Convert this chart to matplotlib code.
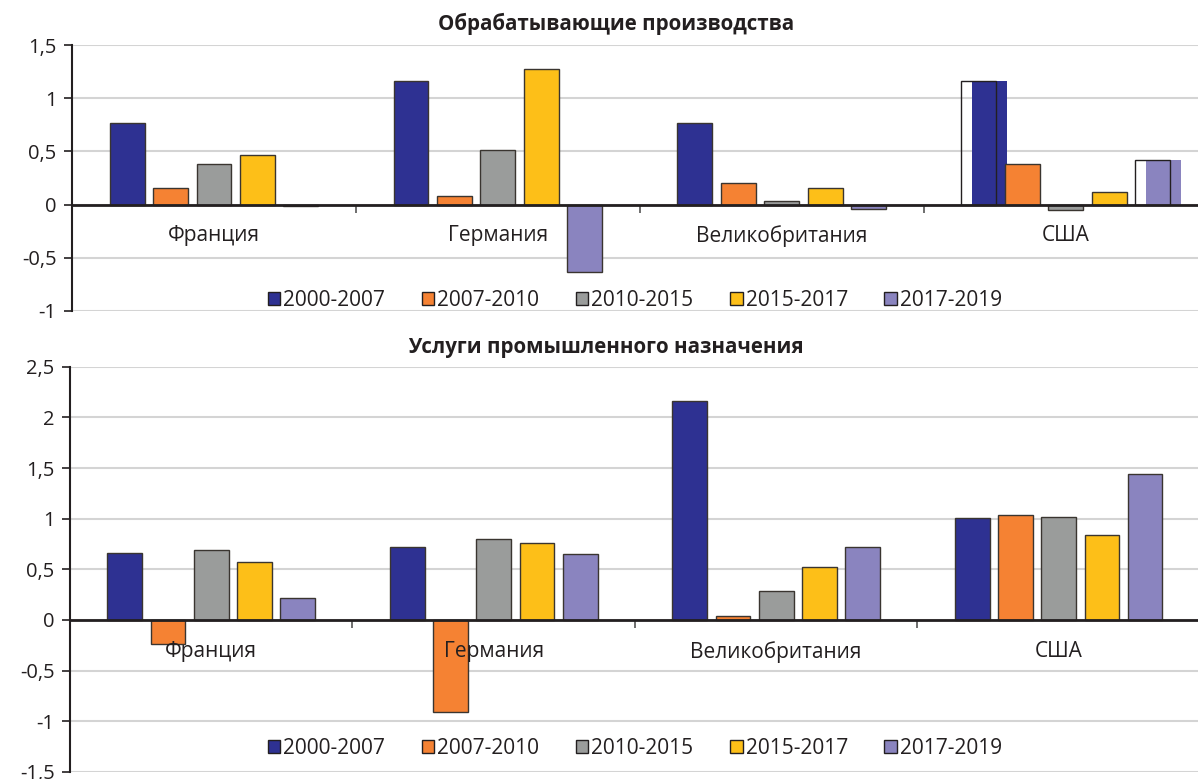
import matplotlib.pyplot as plt
import numpy as np

plt.rcParams['font.family'] = ['Open Sans', 'DejaVu Sans']

countries = ["Франция", "Германия", "Великобритания", "США"]
periods = ["2000-2007", "2007-2010", "2010-2015", "2015-2017", "2017-2019"]
colors = ["#2E3192", "#F58233", "#9A9C9B", "#FDBF18", "#8A84BF"]

# значения по периодам, страны по порядку
manuf = {
    "2000-2007": [0.77, 1.16, 0.77, 1.16],
    "2007-2010": [0.16, 0.08, 0.20, 0.38],
    "2010-2015": [0.38, 0.51, 0.03, -0.05],
    "2015-2017": [0.47, 1.27, 0.16, 0.12],
    "2017-2019": [-0.01, -0.63, -0.04, 0.42],
}
services = {
    "2000-2007": [0.66, 0.72, 2.16, 1.01],
    "2007-2010": [-0.24, -0.91, 0.04, 1.04],
    "2010-2015": [0.69, 0.80, 0.29, 1.02],
    "2015-2017": [0.57, 0.76, 0.52, 0.84],
    "2017-2019": [0.22, 0.65, 0.72, 1.44],
}

top_ticks = [1.5, 1, 0.5, 0, -0.5, -1]
bot_ticks = [2.5, 2, 1.5, 1, 0.5, 0, -0.5, -1, -1.5]

txt = "#231F20"
step = 0.153
width = 0.123


def draw_panel(ax, data, ticks, title, title_x, title_y, legend_y, glitch=False):
    x = np.arange(len(countries))
    for j, p in enumerate(periods):
        pos = x + (j - 2) * step
        vals = data[p]
        for i in range(len(countries)):
            if glitch and i == 3 and j in (0, 4):
                # смещённая заливка как в исходнике
                ax.bar(pos[i] + 0.039, vals[i], width, color=colors[j], zorder=3)
                ax.bar(pos[i], vals[i], width, facecolor="none",
                       edgecolor="#231F20", linewidth=1, zorder=4)
            else:
                ax.bar(pos[i], vals[i], width, color=colors[j],
                       edgecolor="#3a3530", linewidth=1, zorder=3)
    ax.set_xlim(-0.5, 3.5)
    ax.set_ylim(min(ticks), max(ticks))
    ax.set_yticks(ticks)
    ax.set_yticklabels([("%g" % t).replace(".", ",") for t in ticks],
                       fontsize=14.5, color=txt)
    ax.yaxis.grid(True, color="#D4D4D4", linewidth=1.5, zorder=0)
    ax.set_axisbelow(True)
    for s in ["top", "right"]:
        ax.spines[s].set_visible(False)
    ax.spines["left"].set_linewidth(1.5)
    ax.spines["left"].set_color("#231F20")
    ax.spines["bottom"].set_position(("data", 0))
    ax.spines["bottom"].set_linewidth(2)
    ax.spines["bottom"].set_color("#231F20")
    ax.spines["bottom"].set_zorder(5)
    ax.tick_params(axis="y", length=6, width=1.2, color="#231F20", pad=5)
    ax.set_xticks([0.5, 1.5, 2.5])
    ax.set_xticklabels([])
    ax.tick_params(axis="x", which="major", length=6, width=1.2, color="#555555")
    # подписи стран поверх столбцов
    for i, c in enumerate(countries):
        ax.annotate(c, xy=(i, 0), xytext=(0, -15), textcoords="offset points",
                    ha="center", va="top", fontsize=15, color=txt, zorder=6)
    handles = [plt.Rectangle((0, 0), 1, 1, facecolor=c, edgecolor="#231F20",
                             linewidth=1) for c in colors]
    ax.figure.legend(handles, periods, loc="center", ncol=5,
                     bbox_to_anchor=(0.53, legend_y), frameon=False,
                     fontsize=15, handlelength=0.6, handleheight=0.6,
                     handletextpad=0.15, columnspacing=1.75, labelcolor=txt)
    ax.figure.text(title_x, title_y, title, ha="center", va="center",
                   fontsize=14.8, fontweight="bold", color=txt)


fig = plt.figure(figsize=(11.98, 7.79), dpi=100)
ax1 = fig.add_axes([0.0601, 0.6008, 0.948, 0.3414])
ax2 = fig.add_axes([0.0584, 0.0090, 0.9432, 0.5203])

draw_panel(ax1, manuf, top_ticks, "Обрабатывающие производства",
           0.514, 1 - 24 / 779, 1 - 300 / 779, glitch=True)
draw_panel(ax2, services, bot_ticks, "Услуги промышленного назначения",
           0.506, 1 - 348 / 779, 1 - 748 / 779)

fig.savefig("out.png", dpi=100)
